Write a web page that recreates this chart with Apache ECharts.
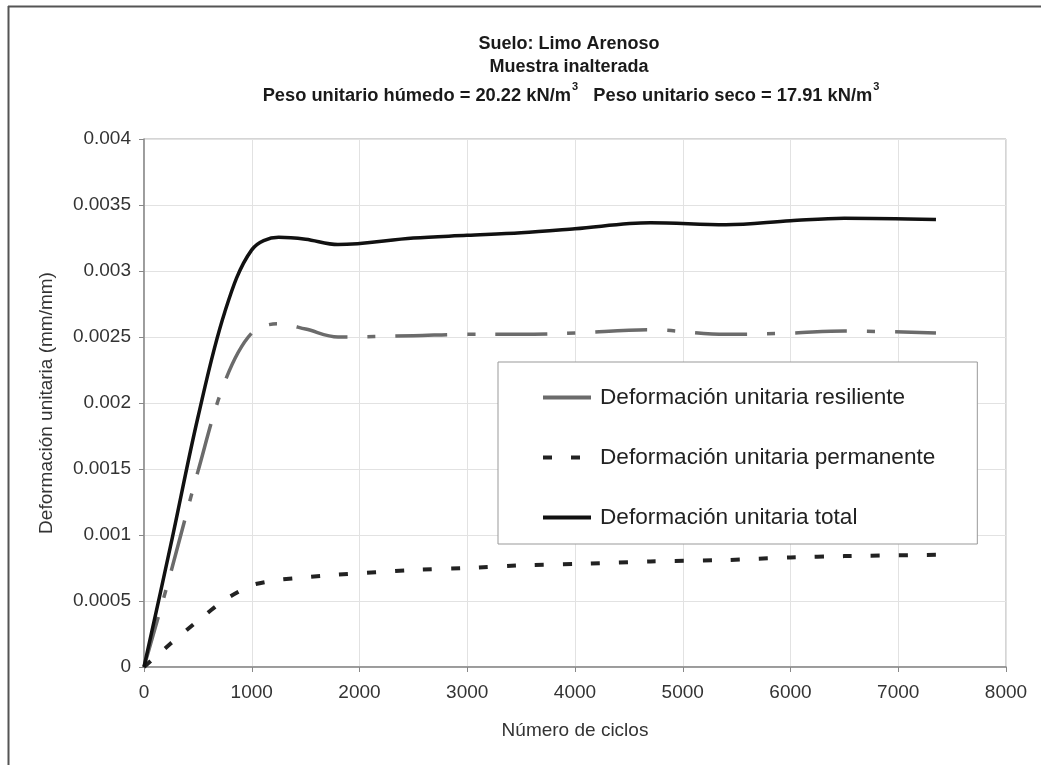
<!DOCTYPE html>
<html>
<head>
<meta charset="utf-8">
<script src="https://cdn.jsdelivr.net/npm/echarts@6/dist/echarts.min.js"></script>
<style>
html,body{margin:0;padding:0;background:#fff;}
#chart{width:1041px;height:780px;}
</style>
</head>
<body>
<div id="chart"></div>
<script>
// Number of cycles (x values)
const cycles = [0, 250, 500, 750, 1000, 1250, 1500, 1800, 2500, 3000, 3500, 4000, 4700, 5400, 6000, 6500, 7350];
// Series values (mm/mm)
const resiliente = [0, 0.00072, 0.00148, 0.00216, 0.00253, 0.00260, 0.00256, 0.00250, 0.00251, 0.00252, 0.00252, 0.00253, 0.002555, 0.00252, 0.00253, 0.002545, 0.00253];
const permanente = [0, 0.00018, 0.00035, 0.00051, 0.00062, 0.00066, 0.00068, 0.00070, 0.000735, 0.00075, 0.00077, 0.00078, 0.00080, 0.00081, 0.00083, 0.00084, 0.00085];
const total = [0, 0.00093, 0.00189, 0.00269, 0.00316, 0.003255, 0.00324, 0.00320, 0.00325, 0.00327, 0.00329, 0.00332, 0.003365, 0.00335, 0.00338, 0.00340, 0.00339];
const seriesNames = ['Deformación unitaria resiliente', 'Deformación unitaria permanente', 'Deformación unitaria total'];
const titleLines = ['Suelo: Limo Arenoso', 'Muestra inalterada'];
const xAxisName = 'Número de ciclos';
const yAxisName = 'Deformación unitaria (mm/mm)';

const pair = (ys) => cycles.map((c, i) => [c, ys[i]]);
const FONT = '"Liberation Sans", Arial, sans-serif';

const chart = echarts.init(document.getElementById('chart'), null, {renderer: 'canvas'});
chart.setOption({
  backgroundColor: '#fff',
  animation: false,
  title: [
    {text: titleLines[0], left: 564, top: 30, textAlign: 'center',
     textStyle: {fontFamily: FONT, fontSize: 18, fontWeight: 'bold', color: '#1a1a1a'}},
    {text: titleLines[1], left: 564, top: 53, textAlign: 'center',
     textStyle: {fontFamily: FONT, fontSize: 18, fontWeight: 'bold', color: '#1a1a1a'}},
    {text: '{a|Peso unitario húmedo = 20.22 kN/m}{s|3}{a|   Peso unitario seco = 17.91 kN/m}{s|3}',
     left: 566, top: 76, textAlign: 'center',
     textStyle: {fontFamily: FONT, fontSize: 18, fontWeight: 'bold', color: '#1a1a1a',
       rich: {
         a: {fontFamily: FONT, fontSize: 18.3, fontWeight: 'bold', color: '#1a1a1a', lineHeight: 24, verticalAlign: 'bottom'},
         s: {fontFamily: FONT, fontSize: 11, fontWeight: 'bold', color: '#1a1a1a', lineHeight: 24, verticalAlign: 'top', padding: [0, 0, 12, 1]}
       }}}
  ],
  graphic: [
    {type: 'line', shape: {x1: 8.5, y1: 6, x2: 8.5, y2: 765}, style: {stroke: '#555', lineWidth: 2}, silent: true},
    {type: 'line', shape: {x1: 8, y1: 6.5, x2: 1041, y2: 6.5}, style: {stroke: '#555', lineWidth: 2}, silent: true}
  ],
  grid: {left: 144, right: 35, top: 139, bottom: 113, show: true, borderColor: '#aaa', borderWidth: 1},
  legend: {
    orient: 'vertical', left: 498, top: 362,
    backgroundColor: '#fff', borderColor: '#999', borderWidth: 1,
    padding: [24, 42, 15, 43], itemGap: 37, itemWidth: 48, itemHeight: 20,
    itemStyle: {opacity: 0, borderWidth: 0},
    lineStyle: {width: 4},
    textStyle: {fontFamily: FONT, fontSize: 22.6, color: '#222', padding: [0, 0, 0, 4]},
    data: seriesNames
  },
  xAxis: {
    type: 'value', min: 0, max: 8000, interval: 1000,
    name: xAxisName, nameLocation: 'middle', nameGap: 54,
    nameTextStyle: {fontFamily: FONT, fontSize: 19, color: '#333'},
    axisLine: {lineStyle: {color: '#888', width: 1.5}},
    axisTick: {show: true, length: 5, lineStyle: {color: '#888'}},
    axisLabel: {fontFamily: FONT, fontSize: 19, color: '#333', margin: 16,
      formatter: (v) => String(v)},
    splitLine: {show: true, lineStyle: {color: '#e2e2e2', width: 1}}
  },
  yAxis: {
    type: 'value', min: 0, max: 0.004, interval: 0.0005,
    name: yAxisName, nameLocation: 'middle', nameGap: 88,
    nameTextStyle: {fontFamily: FONT, fontSize: 19, color: '#333'},
    axisLine: {show: true, lineStyle: {color: '#888', width: 1.5}},
    axisTick: {show: true, length: 5, lineStyle: {color: '#888'}},
    axisLabel: {fontFamily: FONT, fontSize: 19, color: '#333', margin: 13,
      formatter: (v) => v === 0 ? '0' : String(parseFloat(v.toFixed(4)))},
    splitLine: {show: true, lineStyle: {color: '#e2e2e2', width: 1}}
  },
  series: [
    {name: seriesNames[0], type: 'line', data: pair(resiliente), smooth: 0.35, symbol: 'none',
     lineStyle: {color: '#6b6b6b', width: 3.5, type: [52, 20, 8, 20]}, itemStyle: {color: '#6b6b6b'}, z: 3},
    {name: seriesNames[1], type: 'line', data: pair(permanente), smooth: 0.2, symbol: 'none',
     lineStyle: {color: '#222', width: 4, type: [9, 19]}, itemStyle: {color: '#222'}, z: 3},
    {name: seriesNames[2], type: 'line', data: pair(total), smooth: 0.35, symbol: 'none',
     lineStyle: {color: '#111', width: 3.5, type: 'solid'}, itemStyle: {color: '#111'}, z: 4}
  ]
});
</script>
</body>
</html>
